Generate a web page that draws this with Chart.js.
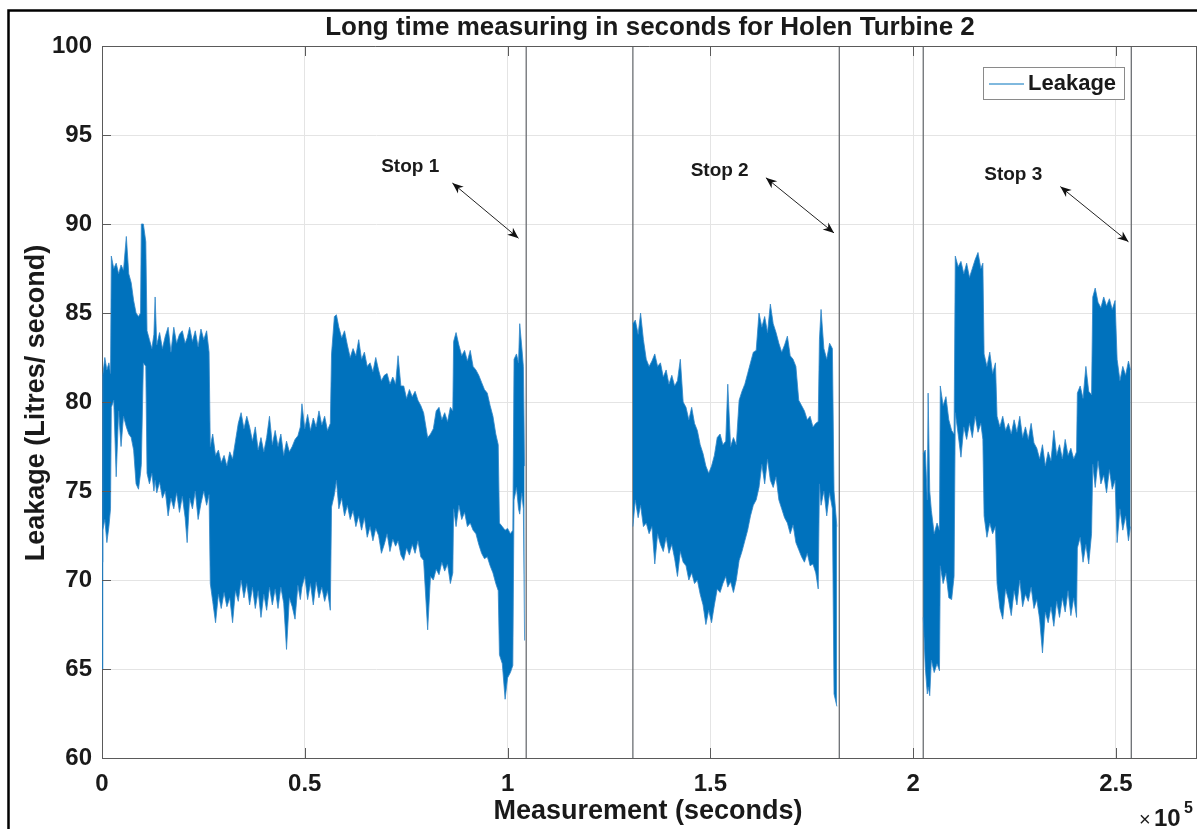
<!DOCTYPE html>
<html>
<head>
<meta charset="utf-8">
<title>Holen Turbine 2 - leakage</title>
<script src="https://cdn.jsdelivr.net/npm/chart.js@4.4.1/dist/chart.umd.min.js"></script>
<style>
  html, body { margin: 0; padding: 0; background: #fff; }
  #wrap { width: 1197px; height: 829px; position: relative; }
</style>
</head>
<body>
<div id="wrap"><canvas id="chart" width="1197" height="829"></canvas></div>
<script>
// ================= DATA =================
// time in seconds, leakage in litres/second (envelope of the noisy signal)
const xTicks = [0, 50000, 100000, 150000, 200000, 250000];
const yTicks = [60, 65, 70, 75, 80, 85, 90, 95, 100];

// segment 1 (before stop 1)
const seg1Time = [0,200,700,1200,1700,2100,2300,2900,3500,4100,
  4700,5300,6000,6600,7200,7800,8400,9000,9500,9700,
  10200,10800,11100,11700,12300,12800,13100,13500,14200,14900,
  15600,16300,17000,17700,18400,19100,19800,20500,21000,21600,
  22300,23000,23700,24400,25100,25800,26400,26700,27300,28000,
  28700,29400,30100,30800,31500,32200,32900,33600,34300,35000,
  35700,36400,37100,37800,38500,39200,39900,40600,41300,42000,
  42700,43400,44100,44800,45500,46200,46900,47600,48300,48900,
  49300,50000,50700,51400,52100,52800,53500,54200,54900,55600,
  56300,56600,57300,57800,58400,59100,59800,60500,61200,61900,
  62600,63300,64000,64700,65400,66100,66800,67500,68200,68900,
  69600,70300,71000,71700,72400,73000,73700,74400,75100,75800,
  76500,77200,77900,78600,79300,80300,81000,81700,82400,83100,
  83800,84500,85200,85900,86500,86700,87300,88000,88700,89400,
  90100,90800,91500,92200,92900,93600,94300,95000,95700,96400,
  97100,97700,98000,98700,99400,100000,100700,101300,101600,102200,
  102700,103000,103500,103900,104200];
const seg1Upper = [71,81.5,82.5,81.8,82.2,81.6,88.2,87.5,87.8,87.2,
  87.7,87.4,89.3,87.2,86.7,85.7,85.0,84.8,85.0,90.0,
  90.0,89.0,84.0,83.5,83.0,83.8,85.9,83.2,83.9,83.0,
  83.7,84.2,82.8,84.2,83.3,83.8,84.0,83.3,83.6,84.2,
  83.4,84.0,83.1,84.1,83.5,84.0,82.8,77.5,78.2,77.0,
  77.3,76.6,77.0,76.4,77.2,76.8,77.8,78.8,79.4,78.5,
  79.2,78.6,77.8,78.6,77.3,78.0,77.2,78.0,79.2,77.6,
  78.4,77.5,78.2,77.0,77.8,77.2,77.5,77.9,78.1,78.6,
  79.9,78.5,79.3,78.4,79.1,78.6,79.5,78.7,79.2,78.4,
  78.8,82.7,84.8,84.9,84.2,83.6,84.0,83.2,82.5,83.0,
  82.6,83.5,82.4,82.8,82.0,82.2,81.7,82.5,81.8,81.2,
  81.5,81.6,81.0,81.4,81.0,82.6,80.9,80.9,80.2,80.7,
  80.3,80.6,80.1,79.8,79.4,78.0,78.2,78.5,79.5,79.7,
  79.0,79.4,78.9,79.7,79.5,83.4,83.9,83.2,82.6,82.9,
  82.3,82.9,82.0,81.8,81.5,81.1,80.7,80.5,79.8,79.2,
  78.2,77.6,73.2,73.0,72.8,72.9,72.6,72.8,82.4,82.7,
  82.2,84.4,83.1,82.0,76.4];
const seg1Lower = [65,72.8,73.4,72.1,73.0,74.0,79.7,80.1,75.8,79.5,
  77.5,79.2,78.6,78.2,78.0,77.3,75.4,75.1,76.0,76.5,
  82.2,82.0,76.0,75.4,76.0,75.0,75.6,74.9,75.5,74.6,
  75.0,73.6,74.6,74.0,74.9,73.8,74.7,73.5,72.1,74.6,
  74.0,75.0,73.4,74.3,75.0,74.2,74.8,69.8,68.8,67.6,
  69.2,68.4,69.3,68.5,69.0,67.6,69.4,68.8,70.0,69.0,
  69.8,68.6,69.6,68.4,69.4,67.9,69.2,68.3,69.6,68.6,
  69.5,68.4,69.6,68.7,66.1,69.0,68.5,67.8,69.7,68.9,
  69.6,70.2,68.9,69.8,68.6,69.9,69.0,69.6,68.8,69.4,
  68.3,74.1,74.8,75.6,74.0,74.6,73.6,74.2,73.4,73.9,
  73.0,73.6,72.8,73.5,72.4,73.0,72.2,72.9,72.5,71.5,
  72.0,72.6,71.6,72.3,71.9,72.2,71.4,71.1,71.8,71.4,
  72.0,71.5,72.2,71.3,71.1,67.2,70.2,70.0,70.6,70.3,
  71.0,70.5,70.9,69.8,70.4,74.0,73.0,74.2,73.4,73.8,
  73.0,73.2,72.8,72.6,72.0,71.5,71.2,71.3,70.8,70.4,
  69.8,69.4,65.8,65.3,63.3,64.5,64.8,65.2,74.5,75.2,
  74.0,73.7,74.9,74.0,66.6];

// segment 2 (between stop 1 and stop 2)
const seg2Time = [130900,131500,132200,132800,133500,134200,134900,135600,136300,137000,
  137700,138400,139100,139800,140500,141200,141900,142600,143300,144000,
  144700,145400,146100,146800,147500,148200,148900,149600,150300,151000,
  151700,152400,153100,153800,154300,155000,155700,156400,157100,157800,
  158500,159200,159900,160600,161300,162000,162700,163400,164100,164800,
  165500,166200,166900,167600,168300,169000,169700,170400,171100,171800,
  172500,173200,173900,174600,175300,176000,176600,176900,177300,178000,
  178700,179400,180100,180500,181200];
const seg2Upper = [84.4,84.6,83.8,85.0,83.5,82.4,82.0,82.3,82.7,82.0,
  82.2,81.4,81.8,81.0,81.5,80.9,81.2,82.4,80.0,79.7,
  79.0,79.7,78.8,78.4,77.6,77.1,76.4,76.0,76.4,77.0,
  78.0,78.2,77.6,77.8,81.0,77.5,78.0,77.6,80.1,80.6,
  81.0,81.6,82.2,82.8,82.9,85.0,84.2,84.8,83.9,85.5,
  84.4,83.9,83.3,82.8,83.2,83.7,82.6,82.4,82.0,80.1,
  79.8,79.5,79.0,79.2,78.6,78.8,78.9,83.5,85.2,83.0,
  82.4,83.3,83.0,75.0,73.0];
const seg2Lower = [73.0,74.5,73.5,74.2,73.0,73.2,72.6,73.0,70.9,72.6,
  72.0,71.6,72.4,71.5,72.0,71.2,70.2,71.6,71.0,70.8,
  70.0,70.4,69.8,70.0,69.2,68.6,67.5,68.3,67.6,68.6,
  69.5,69.3,69.8,70.2,69.6,69.9,69.3,70.0,71.1,71.6,
  72.2,72.8,73.6,74.2,74.5,75.2,76.5,75.4,76.8,75.6,
  75.2,75.8,74.5,74.0,73.5,73.2,72.6,73.1,72.1,71.7,
  71.3,71.0,71.5,70.8,70.9,70.4,69.5,75.4,74.2,75.0,
  73.6,74.9,74.0,63.6,62.9];

// segment 3 (between stop 2 and stop 3)
const seg3Time = [202500,203000,203500,203700,204100,204500,205200,205900,206500,206700,
  207400,208100,208800,209500,210100,210400,211100,211800,212500,213200,
  213900,214600,215300,216000,216700,217200,217500,218200,218900,219600,
  220300,220700,221400,222100,222800,223500,224200,224900,225600,226300,
  227000,227700,228400,229100,229800,230500,231200,231900,232600,233300,
  234000,234700,235400,236100,236800,237500,238200,238900,239600,240300,
  240500,241200,241900,242600,243300,244000,244300,244900,245600,246300,
  247000,247700,248400,249100,249800,250300,251000,251700,252400,253100,
  253600];
const seg3Upper = [77.1,77.3,74.5,80.5,75.0,73.9,72.6,73.2,72.8,80.9,
  79.8,80.3,79.0,78.4,78.2,88.2,87.6,87.9,87.2,87.8,
  87.0,87.5,88.0,88.4,87.5,87.8,82.7,82.0,82.8,81.6,
  82.2,79.2,78.6,79.2,78.4,78.8,78.2,79.0,78.3,79.2,
  78.0,78.6,77.9,78.8,77.7,77.4,76.8,77.6,76.4,77.2,
  76.7,78.4,77.0,77.6,76.8,77.9,77.0,77.4,76.8,77.2,
  80.5,80.9,80.2,82.0,80.6,80.4,85.9,86.4,85.6,85.3,
  85.9,85.4,85.8,85.2,85.7,82.4,81.2,82.0,81.5,82.3,
  81.8];
const seg3Lower = [67.9,65.1,63.6,64.0,63.5,65.5,64.8,65.3,64.9,70.8,
  69.8,70.4,69.0,68.9,70.2,79.4,78.2,76.9,78.6,77.9,
  78.8,78.0,79.2,78.3,78.8,77.9,73.6,72.4,73.2,72.6,
  73.0,69.8,68.4,67.8,69.5,68.9,68.0,69.4,68.6,70.0,
  68.5,69.2,68.8,69.6,68.4,68.9,67.8,65.9,68.2,67.6,
  68.5,67.4,68.8,67.9,69.0,68.2,69.4,68.0,69.0,67.9,
  71.8,72.4,71.0,72.0,70.9,72.6,76.5,75.2,76.7,75.4,
  75.9,74.9,76.2,75.1,75.6,72.1,74.0,72.8,73.6,72.2,
  73.0];

// stops
const stopNames = ["Stop 1", "Stop 2", "Stop 3"];
const stopStart = [104600, 181800, 253800];
const stopEnd = [130900, 202500, 270000];
const stopLabelX = [76000, 152300, 224700];
const stopLabelY = [93.2, 93.0, 92.75];
const arrowFromX = [86400, 163700, 236300];
const arrowFromY = [92.3, 92.6, 92.1];
const arrowToX = [102700, 180500, 253100];
const arrowToY = [89.2, 89.5, 89.0];

const X_MIN = 0, X_MAX = 270000, Y_MIN = 60, Y_MAX = 100;

// ================= STYLE =================
const FONT = "'Liberation Sans', Arial, Helvetica, sans-serif";
const BLUE = "#0072bd";
const EDGE = "rgba(50,135,200,0.8)";
const AXIS = "#5a5a5a";
const TEXT = "#1a1a1a";

function pts(xs, ys) {
    return xs.map((x, i) => ({ x: x, y: ys[i] }));
}

const datasets = [];
[[seg1Time, seg1Upper, seg1Lower],
 [seg2Time, seg2Upper, seg2Lower],
 [seg3Time, seg3Upper, seg3Lower]].forEach(([t, up, lo]) => {
    datasets.push({ data: pts(t, up), borderColor: EDGE, borderWidth: 1, pointRadius: 0, fill: false, tension: 0 });
    datasets.push({ data: pts(t, lo), borderColor: EDGE, borderWidth: 1, pointRadius: 0, fill: "-1", backgroundColor: BLUE, tension: 0 });
});

// stop boxes: the signal is pinned at the axis limits while the turbine is stopped
stopStart.forEach((s, i) => {
    datasets.push({
        data: [{ x: s, y: Y_MIN }, { x: s, y: Y_MAX }, { x: stopEnd[i], y: Y_MAX }, { x: stopEnd[i], y: Y_MIN }],
        borderColor: "#6c6f73", borderWidth: 1.3, pointRadius: 0, fill: false, tension: 0
    });
});

// ================= DECORATION =================
function arrowHead(ctx, x1, y1, x2, y2) {
    const a = Math.atan2(y2 - y1, x2 - x1);
    const len = 11, w = 4.5;
    ctx.beginPath();
    ctx.moveTo(x2, y2);
    ctx.lineTo(x2 - len * Math.cos(a) + w * Math.sin(a), y2 - len * Math.sin(a) - w * Math.cos(a));
    ctx.lineTo(x2 - len * 0.7 * Math.cos(a), y2 - len * 0.7 * Math.sin(a));
    ctx.lineTo(x2 - len * Math.cos(a) - w * Math.sin(a), y2 - len * Math.sin(a) + w * Math.cos(a));
    ctx.closePath();
    ctx.fill();
}

const decor = {
    id: "decor",
    afterDraw(chart) {
        const ctx = chart.ctx;
        const a = chart.chartArea;
        const xs = chart.scales.x, ys = chart.scales.y;
        ctx.save();

        // axes box (top + right) and inward ticks
        ctx.strokeStyle = AXIS;
        ctx.lineWidth = 1;
        ctx.beginPath();
        ctx.moveTo(a.left, a.top + 0.5);
        ctx.lineTo(a.right, a.top + 0.5);
        ctx.moveTo(a.right - 0.5, a.top);
        ctx.lineTo(a.right - 0.5, a.bottom);
        xTicks.forEach(v => {
            const px = Math.round(xs.getPixelForValue(v)) + 0.5;
            ctx.moveTo(px, a.bottom); ctx.lineTo(px, a.bottom - 10);
            ctx.moveTo(px, a.top); ctx.lineTo(px, a.top + 10);
        });
        yTicks.forEach(v => {
            const py = Math.round(ys.getPixelForValue(v)) + 0.5;
            ctx.moveTo(a.left, py); ctx.lineTo(a.left + 9, py);
        });
        ctx.stroke();

        // title
        ctx.fillStyle = TEXT;
        ctx.textAlign = "center";
        ctx.textBaseline = "middle";
        ctx.font = "bold 26px " + FONT;
        ctx.fillText("Long time measuring in seconds for Holen Turbine 2", 650, 28);

        // axis titles
        ctx.font = "bold 27px " + FONT;
        ctx.fillText("Measurement (seconds)", 648, 812);
        ctx.save();
        ctx.translate(37, 403);
        ctx.rotate(-Math.PI / 2);
        ctx.fillText("Leakage (Litres/ second)", 0, 0);
        ctx.restore();

        // x10^5 exponent
        ctx.textAlign = "left";
        ctx.textBaseline = "alphabetic";
        ctx.font = "20px " + FONT;
        ctx.fillText("\u00d7", 1139, 826);
        ctx.font = "bold 24px " + FONT;
        ctx.fillText("10", 1154, 826);
        ctx.font = "bold 16px " + FONT;
        ctx.fillText("5", 1184, 813);

        // stop labels and double arrows
        ctx.font = "bold 19px " + FONT;
        ctx.textAlign = "center";
        ctx.textBaseline = "middle";
        ctx.strokeStyle = "#222";
        ctx.lineWidth = 1;
        stopNames.forEach((name, i) => {
            ctx.fillStyle = TEXT;
            ctx.fillText(name, xs.getPixelForValue(stopLabelX[i]), ys.getPixelForValue(stopLabelY[i]));
            const x1 = xs.getPixelForValue(arrowFromX[i]), y1 = ys.getPixelForValue(arrowFromY[i]);
            const x2 = xs.getPixelForValue(arrowToX[i]), y2 = ys.getPixelForValue(arrowToY[i]);
            ctx.beginPath();
            ctx.moveTo(x1, y1);
            ctx.lineTo(x2, y2);
            ctx.stroke();
            ctx.fillStyle = "#111";
            arrowHead(ctx, x1, y1, x2, y2);
            arrowHead(ctx, x2, y2, x1, y1);
        });

        // legend
        ctx.fillStyle = "#fff";
        ctx.fillRect(983, 67, 141, 32);
        ctx.strokeStyle = "#8a8a8a";
        ctx.strokeRect(983.5, 67.5, 141, 32);
        ctx.strokeStyle = BLUE;
        ctx.beginPath();
        ctx.moveTo(989, 84);
        ctx.lineTo(1024, 84);
        ctx.stroke();
        ctx.fillStyle = TEXT;
        ctx.textAlign = "left";
        ctx.textBaseline = "middle";
        ctx.font = "bold 22px " + FONT;
        ctx.fillText("Leakage", 1028, 84);

        // outer frame of the figure
        ctx.strokeStyle = "#000";
        ctx.lineWidth = 2.5;
        ctx.beginPath();
        ctx.moveTo(8.5, 829);
        ctx.lineTo(8.5, 10.5);
        ctx.lineTo(1197, 10.5);
        ctx.stroke();

        ctx.restore();
    }
};

// ================= CHART =================
new Chart(document.getElementById("chart"), {
    type: "line",
    data: { datasets },
    options: {
        responsive: false,
        animation: false,
        events: [],
        layout: { padding: { top: 46, left: 0, right: 0, bottom: 0 } },
        plugins: {
            legend: { display: false },
            title: { display: false },
            tooltip: { enabled: false },
            filler: { propagate: false }
        },
        scales: {
            x: {
                type: "linear",
                min: X_MIN,
                max: X_MAX,
                afterFit: s => { s.height = 71; },
                afterBuildTicks: s => { s.ticks = xTicks.map(v => ({ value: v })); },
                grid: { color: "#e4e4e4", drawTicks: false },
                border: { color: AXIS, width: 1 },
                ticks: {
                    padding: 12,
                    maxRotation: 0,
                    autoSkip: false,
                    color: TEXT,
                    font: { family: FONT, size: 24, weight: "bold" },
                    callback: v => String(v / 100000)
                }
            },
            y: {
                type: "linear",
                min: Y_MIN,
                max: Y_MAX,
                afterFit: s => { s.width = 102; },
                afterBuildTicks: s => { s.ticks = yTicks.map(v => ({ value: v })); },
                grid: { color: "#e4e4e4", drawTicks: false },
                border: { color: AXIS, width: 1 },
                ticks: {
                    padding: 10,
                    color: TEXT,
                    font: { family: FONT, size: 24, weight: "bold" }
                }
            }
        }
    },
    plugins: [decor]
});
</script>
</body>
</html>
